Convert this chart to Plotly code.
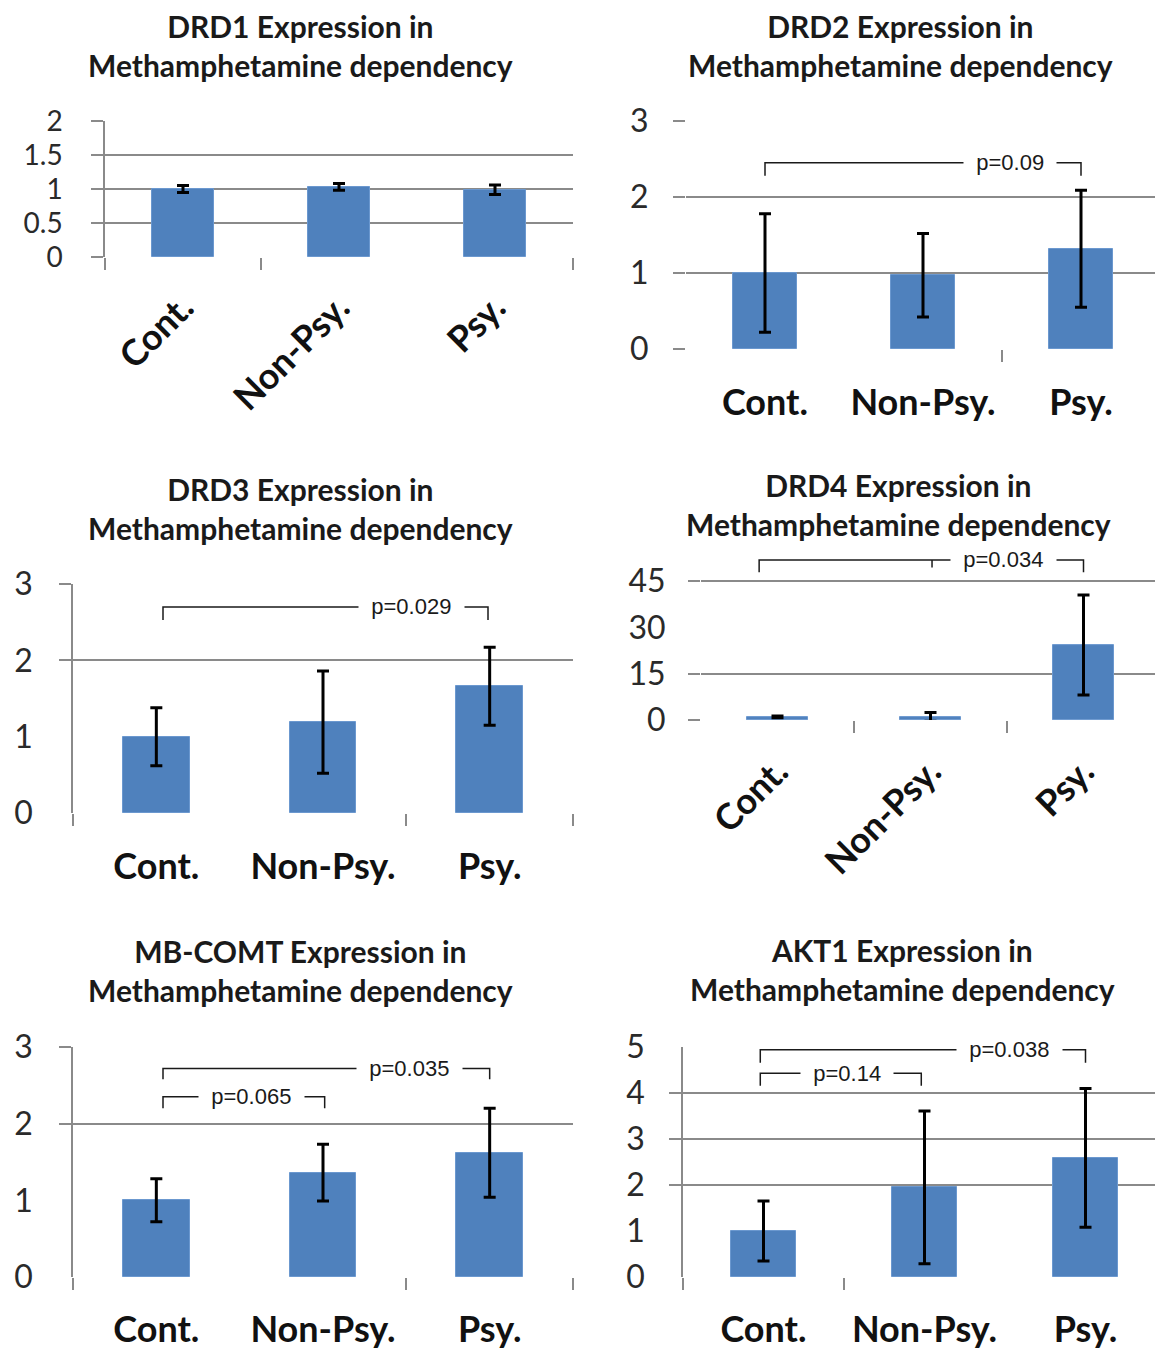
import plotly.graph_objects as go

# ---------------- data ----------------
categories = ["Cont.", "Non-Psy.", "Psy."]

drd1_mean = [1.00, 1.03, 0.99]
drd1_err = [0.05, 0.05, 0.07]
drd2_mean = [1.00, 0.97, 1.32]
drd2_err = [0.78, 0.55, 0.77]
drd3_mean = [1.00, 1.19, 1.66]
drd3_err = [0.38, 0.67, 0.51]
drd4_mean = [1.0, 1.0, 24.3]
drd4_err = [0.3, 1.4, 16.2]
comt_mean = [1.00, 1.36, 1.62]
comt_err = [0.28, 0.37, 0.58]
akt1_mean = [1.00, 1.95, 2.59]
akt1_err = [0.65, 1.66, 1.51]

drd1_ticks = [0, 0.5, 1, 1.5, 2]
drd1_ticklabels = ["0", "0.5", "1", "1.5", "2"]
three_ticks = [0, 1, 2, 3]
three_ticklabels = ["0", "1", "2", "3"]
drd4_ticks = [0, 15, 30, 45]
drd4_ticklabels = ["0", "15", "30", "45"]
akt1_ticks = [0, 1, 2, 3, 4, 5]
akt1_ticklabels = ["0", "1", "2", "3", "4", "5"]

titles = [
    "DRD1 Expression in<br>Methamphetamine dependency",
    "DRD2 Expression in<br>Methamphetamine dependency",
    "DRD3 Expression in<br>Methamphetamine dependency",
    "DRD4 Expression in<br>Methamphetamine dependency",
    "MB-COMT Expression in<br>Methamphetamine dependency",
    "AKT1 Expression in<br>Methamphetamine dependency",
]

# comparisons: (left x, right x, level, leg depth, label, label x, middle ticks)
drd2_pvals = [(0, 2, 2.45, 0.17, "p=0.09", 1.55, [])]
drd3_pvals = [(0.04, 1.99, 2.70, 0.17, "p=0.029", 1.53, [])]
drd4_pvals = [(-0.12, 2.0, 51.8, 4.0, "p=0.034", 1.48, [1.01])]
comt_pvals = [(0.04, 2.0, 2.72, 0.14, "p=0.035", 1.52, []),
              (0.04, 1.01, 2.35, 0.15, "p=0.065", 0.57, [])]
akt1_pvals = [(-0.02, 2.0, 4.94, 0.28, "p=0.038", 1.53, []),
              (-0.02, 0.98, 4.43, 0.27, "p=0.14", 0.52, [])]

# ---------------- layout helpers ----------------
W, H = 1163, 1351
OFF = 8  # page body margin
BLUE = "#4f81bd"
GRID = "#8a8a8a"
FONT = "Lato"


def fx(p):
    return (p - OFF) / W


def fy(p):
    return 1 - (p - OFF) / H


panels = [
    dict(mean=drd1_mean, err=drd1_err, ticks=drd1_ticks, labels=drd1_ticklabels,
         grid=[0, 0.5, 1, 1.5, 2], yrange=[0, 2], xpx=[105, 573], y0=257, ytop=121,
         xticks=[-0.5, 0.5, 2.5], yline=True, angle=-45, xstand=14, ystand=35,
         yfont=28, pvals=[], title_xy=(300, 45)),
    dict(mean=drd2_mean, err=drd2_err, ticks=three_ticks, labels=three_ticklabels,
         grid=[0, 1, 2, 3], yrange=[0, 3], xpx=[686, 1160], y0=349, ytop=121,
         xticks=[1.5, 2.5], yline=False, angle=0, xstand=22, ystand=30,
         yfont=32, pvals=drd2_pvals, title_xy=(900, 45)),
    dict(mean=drd3_mean, err=drd3_err, ticks=three_ticks, labels=three_ticklabels,
         grid=[2, 3], yrange=[0, 3], xpx=[73, 573], y0=813, ytop=584,
         xticks=[-0.5, 1.5, 2.5], yline=True, angle=0, xstand=22, ystand=32,
         yfont=32, pvals=drd3_pvals, title_xy=(300, 508)),
    dict(mean=drd4_mean, err=drd4_err, ticks=drd4_ticks, labels=drd4_ticklabels,
         grid=[0, 15, 45], yrange=[0, 55], xpx=[701, 1160], y0=720, ytop=None,
         xticks=[0.5, 1.5, 2.5], yline=False, angle=-45, xstand=15, ystand=28,
         yfont=32, pvals=drd4_pvals, title_xy=(898, 504)),
    dict(mean=comt_mean, err=comt_err, ticks=three_ticks, labels=three_ticklabels,
         grid=[2, 3], yrange=[0, 3], xpx=[73, 573], y0=1277, ytop=1047,
         xticks=[-0.5, 1.5, 2.5], yline=True, angle=0, xstand=21, ystand=32,
         yfont=32, pvals=comt_pvals, title_xy=(300, 970)),
    dict(mean=akt1_mean, err=akt1_err, ticks=akt1_ticks, labels=akt1_ticklabels,
         grid=[2, 3, 4], yrange=[0, 5], xpx=[683, 1163], y0=1277, ytop=1047,
         xticks=[-0.5, 0.5], yline=True, angle=0, xstand=21, ystand=30,
         yfont=32, pvals=akt1_pvals, title_xy=(902, 969)),
]

# DRD4: 45 sits at y=581, 0 at 720 -> extend range to fit bracket
panels[3]["ytop"] = 720 - (720 - 581) / 45 * 55

fig = go.Figure()
layout = {}
annotations = []
xpos = list(range(len(categories)))

for i, p in enumerate(panels, start=1):
    xa, ya = f"x{i}", f"y{i}"
    xkey = "xaxis" if i == 1 else f"xaxis{i}"
    ykey = "yaxis" if i == 1 else f"yaxis{i}"

    x0px, x1px = p["xpx"]
    if i == 6:
        cw = 161.0
        xr = [-0.5, -0.5 + (x1px - x0px) / cw]
    else:
        xr = [-0.5, 2.5]

    fig.add_trace(go.Bar(
        x=xpos, y=p["mean"], width=0.4,
        marker=dict(color=BLUE, line=dict(color="#6b98cf", width=1)),
        error_y=dict(type="data", array=p["err"], visible=True,
                     color="black", thickness=3, width=6),
        xaxis=xa, yaxis=ya, showlegend=False, hoverinfo="skip",
    ))

    layout[xkey] = dict(
        domain=[fx(x0px), min(1.0, fx(x1px))], range=xr, anchor=ya,
        automargin=False,
        tickmode="array", tickvals=xpos, ticktext=categories,
        ticks="outside", ticklen=p["xstand"], tickcolor="rgba(0,0,0,0)",
        tickangle=p["angle"],
        tickfont=dict(family=FONT, size=36, color="#111111", weight="bold"),
        showgrid=False, zeroline=False, showline=False, fixedrange=True,
        minor=dict(tickmode="array", tickvals=p["xticks"], ticks="outside",
                   ticklen=12, tickwidth=1.5, tickcolor=GRID, showgrid=False),
    )
    layout[ykey] = dict(
        domain=[fy(p["y0"]), fy(p["ytop"])], range=p["yrange"], anchor=xa,
        automargin=False,
        tickmode="array", tickvals=p["ticks"], ticktext=p["labels"],
        ticks="outside", ticklen=p["ystand"], tickcolor="rgba(0,0,0,0)",
        tickfont=dict(family=FONT, size=p["yfont"], color="#2a2a2a"),
        showgrid=False, zeroline=False,
        showline=p["yline"], linecolor=GRID, linewidth=1.5, fixedrange=True,
        minor=dict(tickmode="array", tickvals=p["grid"], ticks="outside",
                   ticklen=12, tickwidth=1.5, tickcolor=GRID,
                   showgrid=True, gridcolor=GRID, gridwidth=1.5),
    )

    for (xl, xr_, lvl, depth, txt, tx, mids) in p["pvals"]:
        bx = [xl, xl, xr_, xr_]
        by = [lvl - depth, lvl, lvl, lvl - depth]
        fig.add_trace(go.Scatter(
            x=bx, y=by, mode="lines", line=dict(color="#1a1a1a", width=1.5),
            xaxis=xa, yaxis=ya, showlegend=False, hoverinfo="skip",
        ))
        for m in mids:
            fig.add_trace(go.Scatter(
                x=[m, m], y=[lvl, lvl - depth * 0.6], mode="lines",
                line=dict(color="#1a1a1a", width=1.5),
                xaxis=xa, yaxis=ya, showlegend=False, hoverinfo="skip",
            ))
        annotations.append(dict(
            x=tx, y=lvl, xref=xa, yref=ya,
            text="&nbsp;&nbsp;" + txt + "&nbsp;&nbsp;", showarrow=False,
            font=dict(family="Liberation Sans", size=22, color="#1a1a1a"),
            bgcolor="white", borderpad=0, xanchor="center", yanchor="middle",
        ))

    tx_, ty_ = p["title_xy"]
    annotations.append(dict(
        x=fx(tx_), y=fy(ty_), xref="paper", yref="paper", text=titles[i - 1],
        showarrow=False, xanchor="center", yanchor="middle", align="center",
        font=dict(family=FONT, size=30, color="#1a1a1a", weight="bold"),
    ))

fig.update_layout(
    width=W, height=H, margin=dict(l=0, r=0, t=0, b=0, autoexpand=False),
    paper_bgcolor="white", plot_bgcolor="white",
    annotations=annotations, bargap=0, **layout,
)

fig.write_html("out.html")
